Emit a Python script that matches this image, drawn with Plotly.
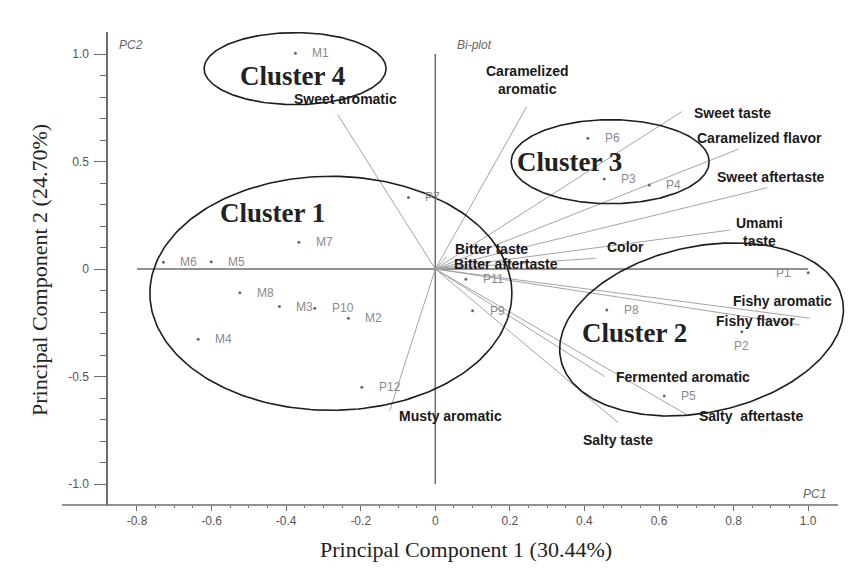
import numpy as np
import plotly.graph_objects as go

# ---------------- data ----------------
obs_names = ["M1", "P7", "M7", "M6", "M5", "M8", "M3", "P10", "M2", "M4", "P12",
             "P6", "P3", "P4", "P1", "P11", "P9", "P8", "P2", "P5"]
obs_pc1 = [-0.375, -0.072, -0.366, -0.729, -0.601, -0.524, -0.418, -0.323, -0.233, -0.636, -0.197,
           0.409, 0.453, 0.574, 1.000, 0.082, 0.100, 0.460, 0.822, 0.614]
obs_pc2 = [1.003, 0.333, 0.124, 0.031, 0.034, -0.110, -0.175, -0.183, -0.229, -0.327, -0.550,
           0.608, 0.419, 0.391, -0.017, -0.048, -0.194, -0.191, -0.292, -0.591]

var_names = ["Sweet aromatic", "Caramelized<br>aromatic", "Sweet taste", "Caramelized flavor",
             "Sweet aftertaste", "Umami<br>taste", "Color", "Bitter taste", "Bitter aftertaste",
             "Fishy aromatic", "Fishy flavor", "Fermented aromatic", "Salty  aftertaste",
             "Salty taste", "Musty aromatic"]
var_pc1 = [-0.261, 0.245, 0.661, 0.8125, 0.890, 0.790, 0.43, 0.030, 0.035,
           1.004, 0.977, 0.455, 0.679, 0.491, -0.122]
var_pc2 = [0.716, 0.755, 0.732, 0.557, 0.378, 0.181, 0.05, 0.056, 0.012,
           -0.229, -0.260, -0.501, -0.682, -0.715, -0.659]

cluster_names = ["Cluster 1", "Cluster 2", "Cluster 3", "Cluster 4"]

x_tickvals = [-0.8, -0.6, -0.4, -0.2, 0, 0.2, 0.4, 0.6, 0.8, 1.0]
x_ticktext = ["-0.8", "-0.6", "-0.4", "-0.2", "0", "0.2", "0.4", "0.6", "0.8", "1.0"]
y_tickvals = [1.0, 0.5, 0, -0.5, -1.0]
y_ticktext = ["1.0", "0.5", "0", "-0.5", "-1.0"]

x_title = "Principal Component 1 (30.44%)"
y_title = "Principal Component 2 (24.70%)"

# ---------------- layout geometry / styles ----------------
W, H = 866, 570
OFF = 8                      # page body margin of the rendered html
SL, ST, SR, SB = 108, 32, 860, 505   # plot box on screen
ML, MT = SL - OFF, ST - OFF
MR, MB = W - (SR - OFF), H - (SB - OFF)
PW, PH = SR - SL, SB - ST
OX, OY = 435.3, 269.0        # screen position of the origin
PXX, PXY = 372.9, 215.0      # px per unit
XR = [(SL - OX) / PXX, (SR - OX) / PXX]
YR = [(OY - SB) / PXY, (OY - ST) / PXY]


def sx(px):
    return (px - SL) / PW


def sy(py):
    return 1 - (py - ST) / PH


# ellipse geometry (centre in data units, semi-axes in px, tilt in deg)
ell_cx = [-0.280, 0.714, 0.469, -0.376]
ell_cy = [-0.113, -0.281, 0.499, 0.932]
ell_a = [181, 144, 99, 91]
ell_b = [117, 83, 42, 36]
ell_rot = [0, 12, 0, 0]
# cluster label offsets from ellipse centre (px, right / up)
clab_dx = [-58, -67, -41, -3]
clab_dy = [80, -4, 0, -7]

# vector label placement (px shift, anchor)
vlab = [
    (8, 16, "center"), (0, 27, "center"), (10, -1, "left"), (-43, 11, "left"),
    (-52, 11, "left"), (30, -2, "center"), (9, 11, "left"), (7, 8, "left"), (4, 2, "left"),
    (-27, 17, "center"), (-3, 4, "right"), (9, 0, "left"), (8, 0, "left"),
    (0, -17, "center"), (7, -5, "left"),
]

AX = "#6e6e6e"
fig = go.Figure()

# reference cross lines
fig.add_shape(type="line", x0=0, x1=0, y0=-1.0, y1=1.0, line=dict(color=AX, width=1.5), layer="below")
fig.add_shape(type="line", x0=-0.8, x1=1.0, y0=0, y1=0, line=dict(color=AX, width=1.5), layer="below")

# loading vectors
vx, vy = [], []
for a, b in zip(var_pc1, var_pc2):
    vx += [0, a, None]
    vy += [0, b, None]
fig.add_trace(go.Scatter(x=vx, y=vy, mode="lines", line=dict(color="#a4a4a4", width=1),
                         hoverinfo="skip", showlegend=False))

# observation points
fig.add_trace(go.Scatter(x=obs_pc1, y=obs_pc2, mode="markers",
                         marker=dict(color="#6a6a6a", size=3), showlegend=False))

# ellipses
t = np.linspace(0, 2 * np.pi, 240)
for cx, cy, a, b, r in zip(ell_cx, ell_cy, ell_a, ell_b, ell_rot):
    th = np.deg2rad(r)
    dx = a * np.cos(t) * np.cos(th) - b * np.sin(t) * np.sin(th)
    dy = a * np.cos(t) * np.sin(th) + b * np.sin(t) * np.cos(th)
    fig.add_trace(go.Scatter(x=cx + dx / PXX, y=cy + dy / PXY, mode="lines",
                             line=dict(color="#1e1e1e", width=1.6), hoverinfo="skip",
                             showlegend=False))

# cluster labels
for name, cx, cy, dx, dy in zip(cluster_names, ell_cx, ell_cy, clab_dx, clab_dy):
    fig.add_annotation(x=cx, y=cy, text="<b>" + name + "</b>", showarrow=False,
                       xshift=dx, yshift=dy, xanchor="center", yanchor="middle",
                       font=dict(family="Liberation Serif, Times New Roman, serif", size=27, color="#222"))

# point labels
for n, x, y in zip(obs_names, obs_pc1, obs_pc2):
    if n == "P1":
        kw = dict(xshift=-15, yshift=0, xanchor="right")
    elif n == "P2":
        kw = dict(xshift=0, yshift=-14, xanchor="center")
    else:
        kw = dict(xshift=15, yshift=0, xanchor="left")
    fig.add_annotation(x=x, y=y, text=n, showarrow=False, yanchor="middle",
                       font=dict(family="Liberation Sans, Arial, sans-serif", size=12, color="#8a8a8a"), **kw)

# vector labels
for n, x, y, (dx, dy, anc) in zip(var_names, var_pc1, var_pc2, vlab):
    fig.add_annotation(x=x, y=y, text="<b>" + n + "</b>", showarrow=False, xshift=dx, yshift=dy,
                       xanchor=anc, yanchor="middle", align="center",
                       font=dict(family="Liberation Sans, Arial, sans-serif", size=14, color="#1a1a1a"))

# small corner labels
small = dict(family="Liberation Sans, Arial, sans-serif", size=12, color="#666")
fig.add_annotation(xref="paper", yref="paper", x=sx(117), y=sy(45), text="<i>PC2</i>",
                   showarrow=False, xanchor="left", yanchor="middle", font=small)
fig.add_annotation(xref="paper", yref="paper", x=sx(455), y=sy(45), text="<i>Bi-plot</i>",
                   showarrow=False, xanchor="left", yanchor="middle", font=small)
fig.add_annotation(xref="paper", yref="paper", x=sx(828), y=sy(494), text="<i>PC1</i>",
                   showarrow=False, xanchor="right", yanchor="middle", font=small)

# axis titles
tfont = dict(family="Liberation Serif, Times New Roman, serif", size=22, color="#222")
fig.add_annotation(xref="paper", yref="paper", x=sx(466), y=sy(549), text=x_title,
                   showarrow=False, xanchor="center", yanchor="middle", font=tfont)
fig.add_annotation(xref="paper", yref="paper", x=sx(39), y=sy(270), text=y_title,
                   showarrow=False, textangle=-90, xanchor="center", yanchor="middle", font=tfont)

# x axis line (extends left of the y axis, stops before the right edge)
fig.add_shape(type="line", xref="paper", yref="paper", x0=sx(62), x1=sx(838), y0=0, y1=0,
              line=dict(color=AX, width=1.5))

tickfont = dict(family="Liberation Sans, Arial, sans-serif", size=12, color="#555")
x_minor = [round(v, 2) for v in np.arange(-0.8, 1.0001, 0.05)]
y_minor = [round(v, 2) for v in np.arange(-1.0, 1.0001, 0.1)]
fig.update_layout(
    width=W, height=H, margin=dict(l=ML, r=MR, t=MT, b=MB),
    paper_bgcolor="white", plot_bgcolor="white", showlegend=False,
    xaxis=dict(range=XR, showgrid=False, zeroline=False, showline=False,
               ticks="outside", ticklen=5, tickcolor=AX, tickwidth=1,
               tickvals=x_tickvals, ticktext=x_ticktext, tickfont=tickfont,
               minor=dict(ticks="outside", ticklen=2, tickvals=x_minor, tickcolor=AX, showgrid=False)),
    yaxis=dict(range=YR, showgrid=False, zeroline=False, showline=True, linecolor=AX, linewidth=1.5,
               ticks="outside", ticklen=12, tickcolor=AX, tickwidth=1, ticklabelstandoff=3,
               tickvals=y_tickvals, ticktext=y_ticktext, tickfont=tickfont,
               minor=dict(ticks="outside", ticklen=6, tickvals=y_minor, tickcolor=AX, showgrid=False)),
)

fig.write_html("out.html")
